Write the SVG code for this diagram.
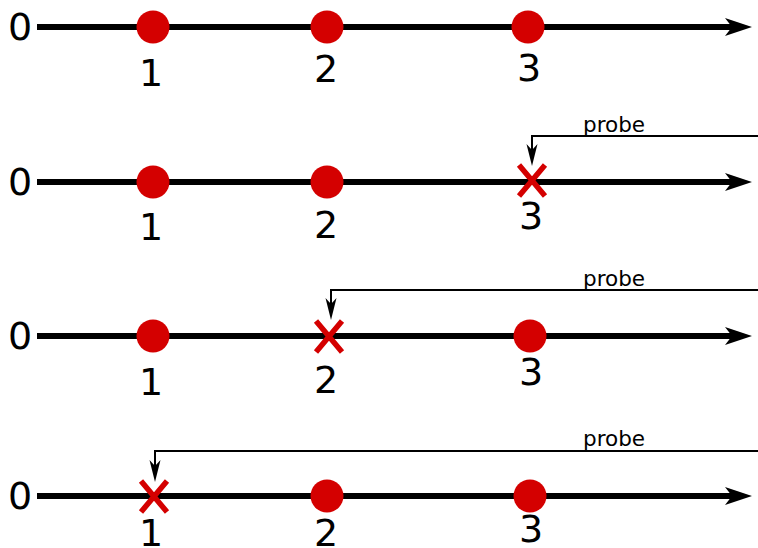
<svg xmlns="http://www.w3.org/2000/svg" width="758" height="548" viewBox="0 0 758 548">
<style>
.ax{stroke:#000;stroke-width:6;fill:none}
.dot{fill:#d40000}
.x{stroke:#d40000;stroke-width:5.5;fill:none}
.pr{stroke:#000;stroke-width:2;fill:none}
.num{font-family:"DejaVu Sans",sans-serif;font-size:38px;fill:#000;text-anchor:middle}
.lab{font-family:"DejaVu Sans",sans-serif;font-size:21.5px;fill:#000}
</style>
<defs>
<path id="ah" d="M0,0 L-27,-9 L-20,0 L-27,9 Z" fill="#000"/>
<path id="ph" d="M0,0 L-5.5,-22 L0,-16 L5.5,-22 Z" fill="#000"/>
</defs>
<g id="connectors">
<line class="ax" x1="37" y1="27" x2="735" y2="27"/><use href="#ah" x="752" y="27"/>
<line class="ax" x1="37" y1="182" x2="735" y2="182"/><use href="#ah" x="752" y="182"/>
<line class="ax" x1="37" y1="336" x2="735" y2="336"/><use href="#ah" x="752" y="336"/>
<line class="ax" x1="37" y1="496" x2="735" y2="496"/><use href="#ah" x="752" y="496"/>
<path class="pr" d="M758,136 H532 V150"/><use href="#ph" x="532" y="166"/>
<path class="pr" d="M758,290 H331 V304"/><use href="#ph" x="331" y="320"/>
<path class="pr" d="M758,451 H155 V466"/><use href="#ph" x="155" y="482"/>
</g>
<g id="row1">
<text class="num" x="20" y="40">0</text>
<circle class="dot" cx="153" cy="27" r="16.5"/><circle class="dot" cx="327" cy="27" r="16.5"/><circle class="dot" cx="528" cy="27" r="16.5"/>
<text class="num" x="151" y="86">1</text><text class="num" x="326" y="82">2</text><text class="num" x="529" y="81">3</text>
</g>
<g id="row2">
<text class="num" x="20" y="195">0</text>
<circle class="dot" cx="153" cy="182" r="16.5"/><circle class="dot" cx="327" cy="182" r="16.5"/>
<path class="x" d="M519,165 L545,196 M545,165 L519,196"/>
<text class="num" x="531" y="229">3</text>
<text class="num" x="151" y="240">1</text><text class="num" x="326" y="238">2</text>
<text class="lab" x="583" y="132">probe</text>
</g>
<g id="row3">
<text class="num" x="20" y="349">0</text>
<circle class="dot" cx="153" cy="336" r="16.5"/><circle class="dot" cx="530" cy="336" r="16.5"/>
<path class="x" d="M316,321 L342,352 M342,321 L316,352"/>
<text class="num" x="151" y="395">1</text><text class="num" x="326" y="393">2</text><text class="num" x="531" y="385">3</text>
<text class="lab" x="583" y="286">probe</text>
</g>
<g id="row4">
<text class="num" x="20" y="509">0</text>
<circle class="dot" cx="327" cy="496" r="16.5"/><circle class="dot" cx="530" cy="496" r="16.5"/>
<path class="x" d="M141,481 L167,512 M167,481 L141,512"/>
<text class="num" x="151" y="546">1</text><text class="num" x="326" y="546">2</text><text class="num" x="531" y="542">3</text>
<text class="lab" x="583" y="446">probe</text>
</g>
</svg>
